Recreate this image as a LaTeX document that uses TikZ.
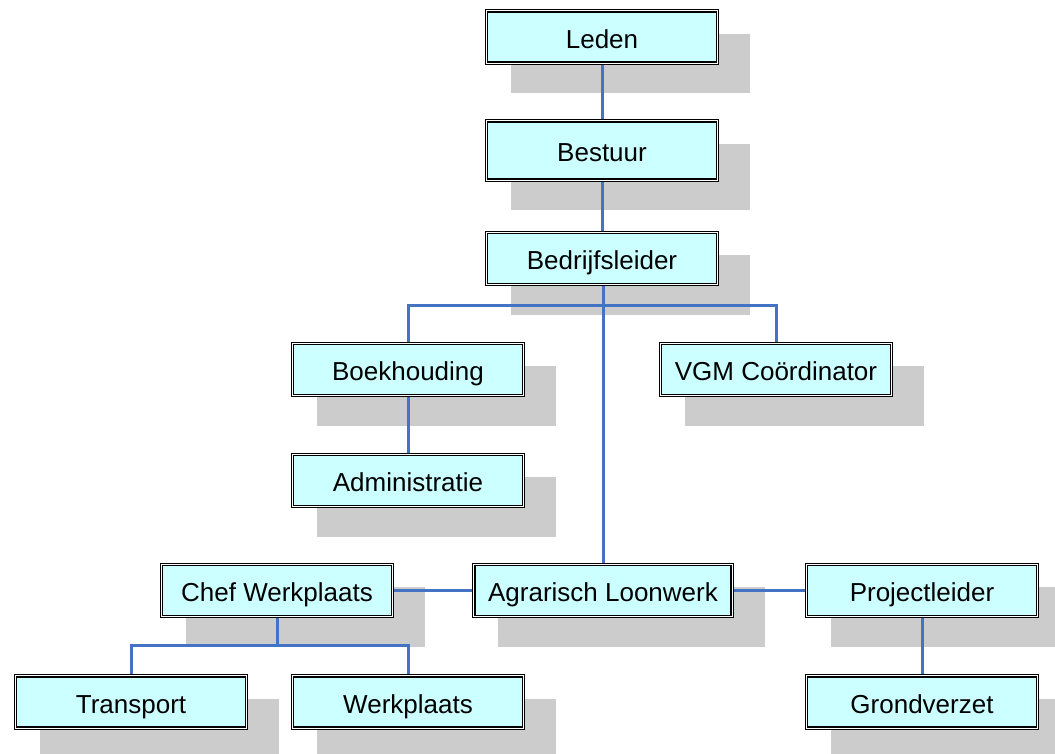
\documentclass[tikz,border=0pt]{standalone}
\usepackage{fontspec}
\setmainfont{Liberation Sans}
\usetikzlibrary{backgrounds}
\definecolor{boxfill}{HTML}{CCFFFF}
\definecolor{shadowgray}{HTML}{CCCCCC}
\definecolor{linkblue}{HTML}{4472C4}
\tikzset{
  orgbox/.style={draw=black, line width=2.4pt,
    fill=boxfill, minimum width=232.5pt, minimum height=53.5pt, inner sep=0pt,
    text height=23pt, text depth=0.6pt,
    font=\fontsize{26}{30}\selectfont},
  gapline/.style={draw=white, line width=1.2pt},
  innerline/.style={draw=black, line width=1.1pt},
  boxshadow/.style={fill=shadowgray, draw=none},
  link/.style={draw=linkblue, line width=3pt}
}
\begin{document}
\begin{tikzpicture}[x=1pt,y=-1pt]
\useasboundingbox (0,0) rectangle (1055,754);
\node[orgbox] (leden) at (602,37) {Leden};
\node[orgbox, minimum height=60.5pt] (bestuur) at (602,150.5) {Bestuur};
\node[orgbox] (bed) at (602,258.5) {Bedrijfsleider};
\node[orgbox] (boek) at (408,369.5) {Boekhouding};
\node[orgbox] (vgm) at (776,369.5) {VGM Coördinator};
\node[orgbox] (admin) at (408,480.5) {Administratie};
\node[orgbox] (chef) at (277,590.5) {Chef Werkplaats};
\node[orgbox, minimum width=259.5pt] (agr) at (603,590.5) {Agrarisch Loonwerk};
\node[orgbox] (proj) at (922,590.5) {Projectleider};
\node[orgbox] (trans) at (131,702) {Transport};
\node[orgbox] (werk) at (408,702) {Werkplaats};
\node[orgbox] (grond) at (922,702) {Grondverzet};
\foreach \n in {leden,bestuur,bed,boek,vgm,admin,chef,agr,proj,trans,werk,grond}{
  \draw[gapline] ([xshift=1.8pt,yshift=-1.8pt]\n.north west) rectangle ([xshift=-1.8pt,yshift=1.8pt]\n.south east);
  \draw[innerline] ([xshift=2.95pt,yshift=-2.95pt]\n.north west) rectangle ([xshift=-2.95pt,yshift=2.95pt]\n.south east);
}
\begin{scope}[on background layer]
\foreach \n in {leden,bestuur,bed,boek,vgm,admin,chef,agr,proj,trans,werk,grond}
  \fill[boxshadow] ([xshift=26.25pt,yshift=-24.75pt]\n.north west) rectangle ([xshift=30.75pt,yshift=-28.25pt]\n.south east);
\end{scope}
\coordinate (j1) at (603,305);
\coordinate (j2) at (277,645);
\draw[link] (leden.south) -- (bestuur.north);
\draw[link] (bestuur.south) -- (bed.north);
\draw[link] (bed.south -| agr.north) -- (agr.north);
\draw[link] (j1) -| (boek.north);
\draw[link] (j1) -| (vgm.north);
\draw[link] (boek.south) -- (admin.north);
\draw[link] (chef.east) -- (agr.west);
\draw[link] (agr.east) -- (proj.west);
\draw[link] (chef.south) -- (j2);
\draw[link] (j2) -| (trans.north);
\draw[link] (j2) -| (werk.north);
\draw[link] (proj.south) -- (grond.north);
\end{tikzpicture}
\end{document}
